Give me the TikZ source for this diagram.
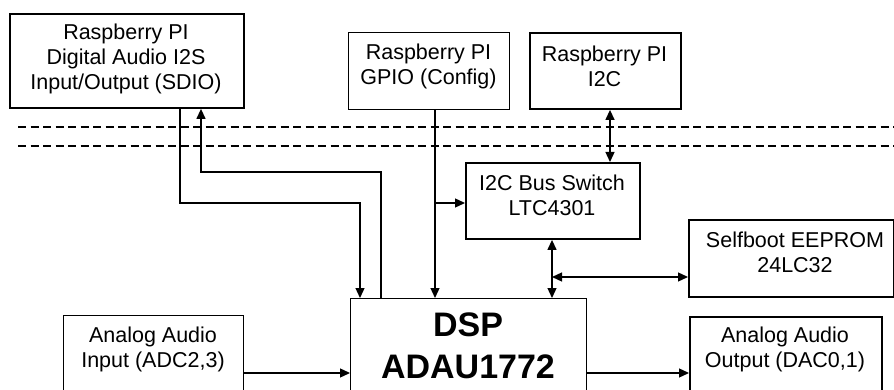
\documentclass[tikz,border=0pt]{standalone}
\usepackage{fontspec}
\setmainfont{Liberation Sans}
\usetikzlibrary{arrows.meta}
\begin{document}
\begin{tikzpicture}[x=1pt,y=-1pt,
  box/.style={draw, line width=1.9pt, inner sep=0pt, anchor=north west},
  tbox/.style={draw, line width=1.2pt, inner sep=0pt, anchor=north west},
  lbl/.style={font=\fontsize{21.5}{25}\selectfont, align=center, inner sep=0pt},
  big/.style={font=\fontsize{34}{42}\selectfont\bfseries, align=center, inner sep=0pt},
  conn/.style={line width=1.3pt},
  arr/.style={conn, -{Triangle[length=10pt,width=9pt]}},
  darr/.style={conn, {Triangle[length=10pt,width=9pt]}-{Triangle[length=10pt,width=9pt]}},
  sep/.style={line width=1.3pt, dash pattern=on 8pt off 4.5pt}]
\useasboundingbox (0,0) rectangle (894,390);
\fill[white] (0,0) rectangle (894,390);
\clip (0,0) rectangle (894,390);

% separator lines
\draw[sep] (18,127) -- (894,127);
\draw[sep] (18,146) -- (894,146);

% boxes
\node[box, minimum width=234pt, minimum height=94pt] (sdio) at (9,13) {};
\node[lbl] (sdiot) at (126,59) {Raspberry PI\\Digital Audio I2S\\Input/Output (SDIO)};

\node[tbox, minimum width=161pt, minimum height=77pt] (gpio) at (348,32) {};
\node[lbl] (gpiot) at (428.5,66) {Raspberry PI\\GPIO (Config)};

\node[box, minimum width=151pt, minimum height=76pt] (i2c) at (529,32) {};
\node[lbl] (i2ct) at (604.5,66) {Raspberry PI\\I2C};

\node[box, minimum width=174pt, minimum height=76pt] (sw) at (465,162) {};
\node[lbl] (swt) at (552,195) {I2C Bus Switch\\LTC4301};

\node[box, minimum width=205pt, minimum height=77pt] (eep) at (688,219) {};
\node[lbl] (eept) at (795,252) {Selfboot EEPROM\\24LC32};

\node[tbox, minimum width=236pt, minimum height=130pt] (dsp) at (350,298) {};
\node[big] (dspt) at (468,346) {DSP\\ADAU1772};

\node[tbox, minimum width=180pt, minimum height=110pt] (ain) at (63,315) {};
\node[lbl] (aint) at (153,349) {Analog Audio\\Input (ADC2,3)};

\node[box, line width=1.5pt, minimum width=192pt, minimum height=110pt] (aout) at (689,316) {};
\node[lbl] (aoutt) at (785,349) {Analog Audio\\Output (DAC0,1)};

% connectors
\draw[arr] (sdio.south -| 180,0) -- (180,203) -- (360,203) -- (dsp.north -| 360,0);
\draw[arr] (dsp.north -| 381,0) -- (381,172) -- (201,172) -- (sdio.south -| 201,0);
\draw[arr] (gpio.south -| 435,0) -- (dsp.north -| 435,0);
\coordinate (gj) at (435,203);
\draw[arr] (gj) -- (sw.west |- gj);
\draw[darr] (i2c.south -| 610,0) -- (sw.north -| 610,0);
\draw[darr] (sw.south -| 552,0) -- (dsp.north -| 552,0);
\coordinate (ej) at (552,277);
\draw[darr] (ej) -- (eep.west |- ej);
\coordinate (ai) at (243,373);
\draw[arr] (ain.east |- ai) -- (dsp.west |- ai);
\draw[arr] (dsp.east |- ai) -- (aout.west |- ai);
\end{tikzpicture}
\end{document}
